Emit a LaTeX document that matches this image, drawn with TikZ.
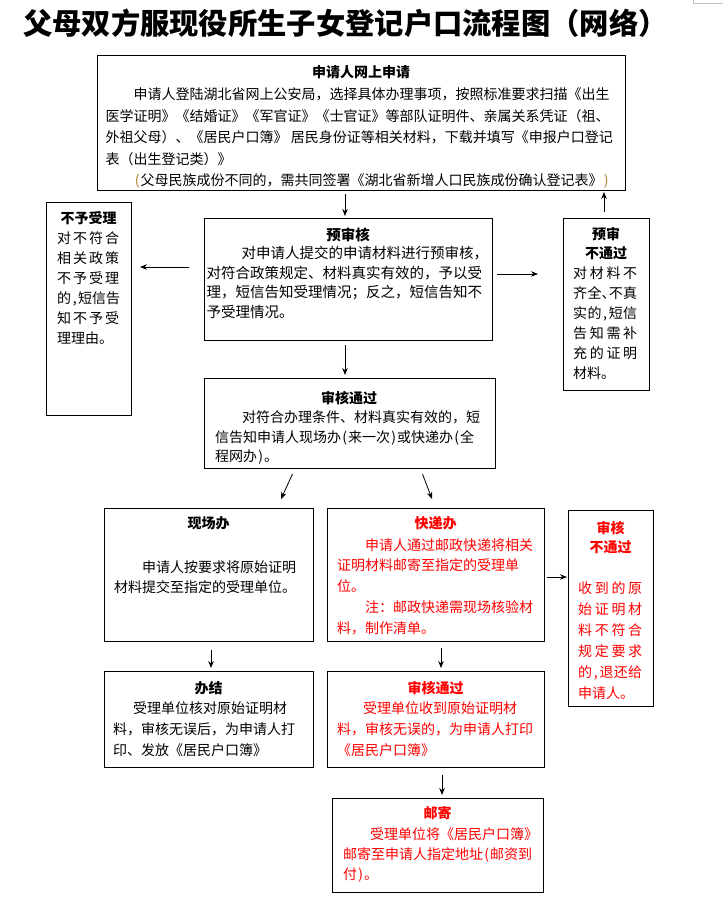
\documentclass[tikz,border=0pt]{standalone}
\usepackage{fontspec}
\setmainfont{Noto Sans CJK SC}
\usetikzlibrary{arrows.meta}
\definecolor{rd}{RGB}{255,0,0}
\definecolor{parencol}{RGB}{170,130,40}
\newcommand\hp[1]{\makebox[0.5em]{#1}}
\newcommand\hpl[1]{\makebox[0.5em][l]{#1}}
\newcommand\spr[2]{\makebox[#1][l]{#2}}
\begin{document}
\begin{tikzpicture}[x=1pt,y=-1pt,
  box/.style={draw, line width=0.9pt, anchor=north west, inner sep=0pt, outer sep=0pt},
  body/.style={anchor=west, inner sep=0pt, align=left, font=\fontsize{14}{20.5}\selectfont},
  ttl/.style={inner sep=0pt, align=center, font=\fontsize{14}{19}\selectfont\bfseries},
  arr/.style={line width=0.8pt, -{Stealth[length=7pt,width=5.5pt]}},
  redtext/.style={text=rd}
]
\useasboundingbox (0,0) rectangle (723,914);
\draw[gray!50, line width=0.5pt] (693,0) -- (693,3) -- (723,3);

% title
\node[anchor=west, inner sep=0pt, font=\fontsize{29.3}{29}\selectfont\bfseries] (title) at (23,23) {父母双方服现役所生子女登记户口流程图（网络）};

% boxes
\node[box, minimum width=528pt, minimum height=135pt] (apply) at (97,55) {};
\node[box, minimum width=85pt, minimum height=213pt] (noacc) at (46,202) {};
\node[box, minimum width=288pt, minimum height=122pt] (pre) at (204,218) {};
\node[box, minimum width=86pt, minimum height=172pt] (prefail) at (563,218) {};
\node[box, minimum width=291pt, minimum height=90pt] (ok) at (204,378) {};
\node[box, minimum width=209pt, minimum height=133pt] (onsite) at (104,508) {};
\node[box, minimum width=217pt, minimum height=133pt] (express) at (327,508) {};
\node[box, minimum width=85pt, minimum height=196pt] (fail) at (568,510) {};
\node[box, minimum width=209pt, minimum height=96pt] (done) at (104,671) {};
\node[box, minimum width=217pt, minimum height=96pt] (ok2) at (327,671) {};
\node[box, minimum width=211pt, minimum height=94pt] (mail) at (332,798) {};

% top box text
\node[ttl] (apply-t) at (361,72) {申请人网上申请};
\node[body, font=\fontsize{14}{21.4}\selectfont] (apply-b) at (105.5,138.2) {%
\hspace*{2em}申请人登陆湖北省网上公安局，选择具体办理事项，按照标准要求扫描《出生\\
医学证明》《结婚证》《军官证》《士官证》等部队证明件、亲属关系凭证（祖、\\
外祖父母）、《居民户口簿》 居民身份证等相关材料，下载并填写《申报户口登记\\
表（出生登记类）》\\
\hspace*{2em}\textcolor{parencol}{\hp{(}}父母民族成份不同的，需共同签署《湖北省新增人口民族成份确认登记表》\textcolor{parencol}{\hp{)}}};

% 不予受理
\node[ttl] (noacc-t) at (88.5,218) {不予受理};
\node[body, font=\fontsize{14}{20}\selectfont] (noacc-b) at (57,288) {%
\spr{62pt}{对\hfill 不\hfill 符\hfill 合}\\
\spr{62pt}{相\hfill 关\hfill 政\hfill 策}\\
\spr{62pt}{不\hfill 予\hfill 受\hfill 理}\\
\spr{62pt}{的\hp{,}\hfill 短\hfill 信\hfill 告}\\
\spr{62pt}{知\hfill 不\hfill 予\hfill 受}\\
理理由。};

% 预审核
\node[ttl, font=\fontsize{14.5}{19}\selectfont\bfseries] (pre-t) at (348,235) {预审核};
\node[body, font=\fontsize{14.5}{19.7}\selectfont] (pre-b) at (206.5,282.5) {%
\hspace*{35pt}对申请人提交的申请材料进行预审核，\\
对符合政策规定、材料真实有效的，予以受\\
理，短信告知受理情况；反之，短信告知不\\
予受理情况。};

% 预审不通过
\node[ttl] (prefail-t) at (606,243.5) {预审\\不通过};
\node[body, font=\fontsize{14}{20}\selectfont] (prefail-b) at (573,323) {%
\spr{64pt}{对\hfill 材\hfill 料\hfill 不}\\
\spr{64pt}{齐\hfill 全\hpl{、}\hfill 不\hfill 真}\\
\spr{64pt}{实\hfill 的\hp{,}\hfill 短\hfill 信}\\
\spr{64pt}{告\hfill 知\hfill 需\hfill 补}\\
\spr{64pt}{充\hfill 的\hfill 证\hfill 明}\\
材料。};

% 审核通过
\node[ttl] (ok-t) at (349,398) {审核通过};
\node[body, font=\fontsize{14}{19.5}\selectfont] (ok-b) at (215,437.5) {%
\hspace*{27pt}对符合办理条件、材料真实有效的，短\\
信告知申请人现场办\hp{(}来一次\hp{)}或快递办\hp{(}全\\
程网办\hp{)}。};

% 现场办
\node[ttl] (onsite-t) at (208.5,523) {现场办};
\node[body, font=\fontsize{14}{20}\selectfont] (onsite-b) at (114,577) {%
\hspace*{28pt}申请人按要求将原始证明\\
材料提交至指定的受理单位。};

% 快递办
\node[ttl, redtext] (express-t) at (435.5,523) {快递办};
\node[body, redtext, font=\fontsize{14}{20.75}\selectfont] (express-b) at (337,586.5) {%
\hspace*{28pt}申请人通过邮政快递将相关\\
证明材料邮寄至指定的受理单\\
位。\\
\hspace*{28pt}注：邮政快递需现场核验材\\
料，制作清单。};

% 审核不通过
\node[ttl, redtext] (fail-t) at (610.5,537.5) {审核\\不通过};
\node[body, redtext, font=\fontsize{14}{21}\selectfont] (fail-b) at (578,640.5) {%
\spr{64pt}{收\hfill 到\hfill 的\hfill 原}\\
\spr{64pt}{始\hfill 证\hfill 明\hfill 材}\\
\spr{64pt}{料\hfill 不\hfill 符\hfill 合}\\
\spr{64pt}{规\hfill 定\hfill 要\hfill 求}\\
\spr{64pt}{的\hp{,}\hfill 退\hfill 还\hfill 给}\\
申请人。};

% 办结
\node[ttl] (done-t) at (208.5,688) {办结};
\node[body, font=\fontsize{14}{21}\selectfont] (done-b) at (113,729) {%
\hspace*{20pt}受理单位核对原始证明材\\
料，审核无误后，为申请人打\\
印、发放《居民户口簿》};

% 审核通过 (red)
\node[ttl, redtext] (ok2-t) at (435.5,688) {审核通过};
\node[body, redtext, font=\fontsize{14}{21}\selectfont] (ok2-b) at (337,729) {%
\hspace*{26pt}受理单位收到原始证明材\\
料，审核无误的，为申请人打印\\
《居民户口簿》};

% 邮寄
\node[ttl, redtext] (mail-t) at (437.5,813) {邮寄};
\node[body, redtext, font=\fontsize{14}{20}\selectfont] (mail-b) at (343,855) {%
\hspace*{27pt}受理单位将《居民户口簿》\\
邮寄至申请人指定地址\hp{(}邮资到\\
付\hp{)}。};

% helper coordinates
\coordinate (yl) at (0,267);
\coordinate (yr) at (0,274);
\coordinate (yf) at (0,577);
\coordinate (xa) at (345,0);
\coordinate (xu) at (604,0);
\coordinate (xs) at (211,0);
\coordinate (xe) at (441,0);
\coordinate (xm) at (442,0);

% connectors
\draw[arr, shorten <=4pt, shorten >=2pt] (apply.south -| xa) -- (pre.north -| xa);
\draw[arr, shorten <=15pt, shorten >=9pt] (pre.west |- yl) -- (noacc.east |- yl);
\draw[arr, shorten <=5pt, shorten >=25pt] (pre.east |- yr) -- (prefail.west |- yr);
\draw[arr, shorten <=6pt, shorten >=2pt] (prefail.north -| xu) -- (apply.south -| xu);
\draw[arr, shorten <=5pt, shorten >=3pt] (pre.south -| xa) -- (ok.north -| xa);
\draw[arr] ([xshift=-57pt,yshift=-6pt]ok.south) -- ([xshift=72.5pt,yshift=9pt]onsite.north);
\draw[arr] ([xshift=73pt,yshift=-6pt]ok.south) -- ([xshift=-3.5pt,yshift=9pt]express.north);
\draw[arr, shorten <=9pt, shorten >=3pt] (onsite.south -| xs) -- (done.north -| xs);
\draw[arr, shorten <=7pt, shorten >=3pt] (express.south -| xe) -- (ok2.north -| xe);
\draw[arr, shorten <=3pt, shorten >=1pt] (express.east |- yf) -- (fail.west |- yf);
\draw[arr, shorten <=8pt, shorten >=3pt] (ok2.south -| xm) -- (mail.north -| xm);
\end{tikzpicture}
\end{document}
